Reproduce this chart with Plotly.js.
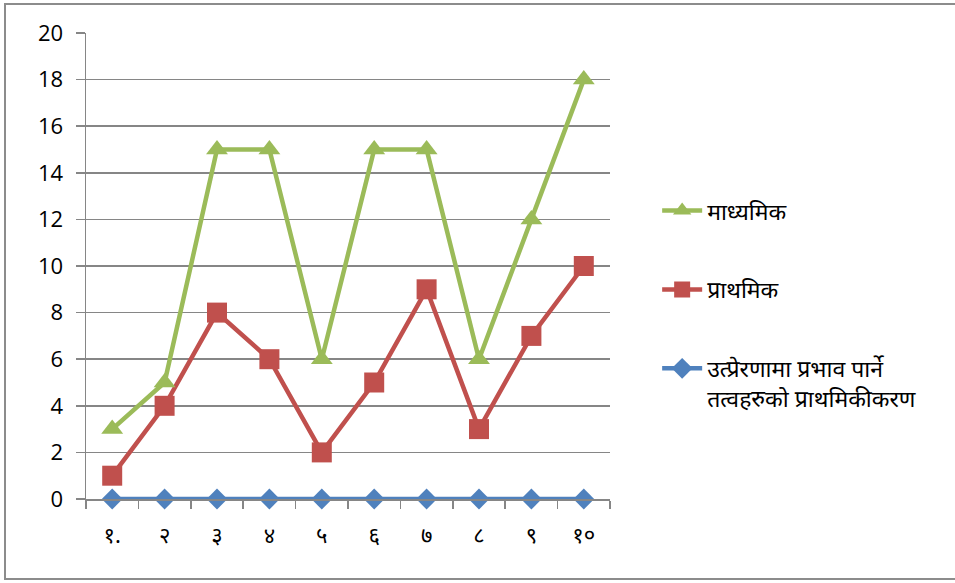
<!DOCTYPE html>
<html>
<head>
<meta charset="utf-8">
<script src="https://cdn.plot.ly/plotly-3.0.1.min.js"></script>
<style>
  html, body { margin: 0; padding: 0; background: #fff; overflow: hidden; }
  #frame { position: absolute; left: 4px; top: 3px; width: 970px; height: 577px;
           border: 2px solid #8c8c8c; border-right: none; box-sizing: border-box; }
  #chart { position: absolute; left: 0; top: 0; width: 955px; height: 583px; }
</style>
</head>
<body>
<div id="frame"></div>
<div id="chart"></div>
<script>
// categories on the x axis (Devanagari numerals)
const categories = ['१.', '२', '३', '४', '५', '६', '७', '८', '९', '१०'];

// series
const seriesNames = ['उत्प्रेरणामा प्रभाव पार्ने<br>तत्वहरुको प्राथमिकीकरण', 'प्राथमिक', 'माध्यमिक'];
const prioritisation = [0, 0, 0, 0, 0, 0, 0, 0, 0, 0];
const primary = [1, 4, 8, 6, 2, 5, 9, 3, 7, 10];
const secondary = [3, 5, 15, 15, 6, 15, 15, 6, 12, 18];

// y axis ticks
const yTicks = [0, 2, 4, 6, 8, 10, 12, 14, 16, 18, 20];

const colors = ['#4F81BD', '#C0504D', '#9BBB59'];
const symbols = ['diamond', 'square', 'triangle-up'];
const sizes = [16, 20, 19];
const ranks = [3, 2, 1];
const values = [prioritisation, primary, secondary];

const traces = values.map((v, i) => ({
  type: 'scatter',
  mode: 'lines+markers',
  x: categories,
  y: v,
  name: seriesNames[i],
  legendgroup: 'g' + i,
  legendrank: ranks[i],
  line: { color: colors[i], width: 4.5 },
  marker: { color: colors[i], symbol: symbols[i], size: sizes[i], line: { width: 0 } },
  cliponaxis: false
}));

const layout = {
  width: 955,
  height: 583,
  margin: { l: 86, r: 345, t: 33, b: 84 },
  paper_bgcolor: 'rgba(0,0,0,0)',
  plot_bgcolor: 'rgba(0,0,0,0)',
  font: { family: 'Open Sans, Noto Sans, sans-serif', color: '#000' },
  showlegend: true,
  legend: {
    x: 1.09, y: 0.665, xanchor: 'left', yanchor: 'top',
    traceorder: 'grouped',
    tracegroupgap: 46,
    valign: 'top',
    itemwidth: 40,
    font: { size: 23, family: 'Noto Sans, sans-serif', color: '#000' },
    bgcolor: 'rgba(0,0,0,0)'
  },
  xaxis: {
    type: 'category',
    range: [-0.5, 9.5],
    tickson: 'boundaries',
    ticks: 'outside',
    ticklen: 8,
    tickwidth: 1.5,
    tickcolor: '#868686',
    showline: true,
    linecolor: '#868686',
    linewidth: 1.5,
    showgrid: false,
    zeroline: false,
    ticklabelstandoff: 16,
    tickfont: { size: 22, family: 'Noto Sans, sans-serif' },
    fixedrange: true
  },
  yaxis: {
    range: [0, 20],
    tickvals: yTicks,
    ticktext: yTicks.map(String),
    ticks: 'outside',
    ticklen: 9,
    tickwidth: 1.5,
    tickcolor: '#868686',
    showline: true,
    linecolor: '#868686',
    linewidth: 1.5,
    showgrid: true,
    gridcolor: '#868686',
    gridwidth: 1.5,
    zeroline: false,
    ticklabelstandoff: 8,
    tickfont: { size: 22, family: 'Open Sans, sans-serif' },
    fixedrange: true
  }
};

Plotly.newPlot('chart', traces, layout, { staticPlot: true, displayModeBar: false });
</script>
</body>
</html>
